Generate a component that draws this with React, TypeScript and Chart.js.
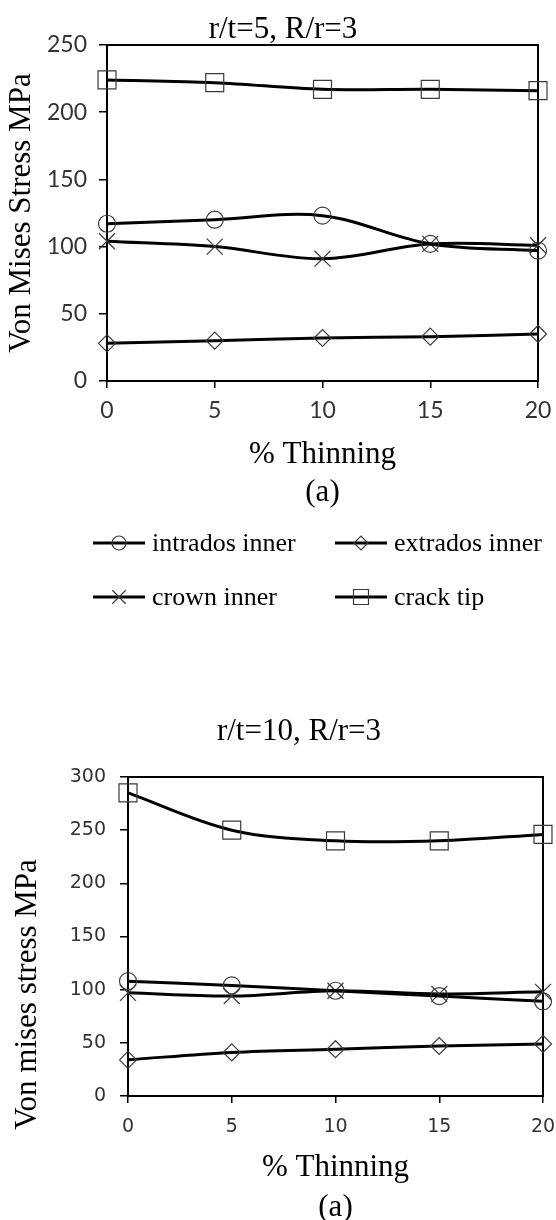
import React, { useEffect, useRef } from 'react';
import { Chart, registerables } from 'chart.js';

Chart.register(...registerables);

// ---------- data ----------
const THINNING = [0, 5, 10, 15, 20];
const SERIES_NAMES = ['intrados inner', 'extrados inner', 'crown inner', 'crack tip'];
const SERIES_MARKERS = ['circle', 'rectRot', 'crossRot', 'rect'];

// chart (top): r/t=5, R/r=3
const TOP_TITLE = 'r/t=5, R/r=3';
const TOP_Y_TITLE = 'Von Mises Stress MPa';
const TOP_INTRADOS = [117, 120, 123, 102, 97];
const TOP_EXTRADOS = [28, 30, 32, 33, 35];
const TOP_CROWN = [104, 100, 91, 102, 101];
const TOP_CRACK = [224, 222, 217, 217, 216];
const TOP_Y_MAX = 250;

// chart (bottom): r/t=10, R/r=3
const BOT_TITLE = 'r/t=10, R/r=3';
const BOT_Y_TITLE = 'Von mises stress MPa';
const BOT_INTRADOS = [108, 104, 99, 94, 89];
const BOT_EXTRADOS = [34, 41, 44, 47, 49];
const BOT_CROWN = [97, 94, 99, 96, 98];
const BOT_CRACK = [285, 250, 240, 240, 246];
const BOT_Y_MAX = 300;

const Y_STEP = 50;
const X_STEP = 5;
const X_TITLE = ['% Thinning', '(a)'];

// ---------- styling ----------
const SERIF = "'Liberation Serif', 'Times New Roman', serif";
const MARKER_RADIUS: Record<string, number> = { circle: 8.5, rectRot: 8.5, crossRot: 11.3, rect: 12.7 };
const LEGEND_RADIUS: Record<string, number> = { circle: 7, rectRot: 7, crossRot: 9.5, rect: 10.6 };
const MARKER_COLOR = '#3a3a3a';

function drawMarker(ctx: CanvasRenderingContext2D, style: string, x: number, y: number, r: number) {
  ctx.beginPath();
  if (style === 'circle') {
    ctx.arc(x, y, r, 0, Math.PI * 2);
  } else if (style === 'rectRot') {
    ctx.moveTo(x - r, y);
    ctx.lineTo(x, y - r);
    ctx.lineTo(x + r, y);
    ctx.lineTo(x, y + r);
    ctx.closePath();
  } else if (style === 'crossRot') {
    const d = r * Math.SQRT1_2;
    ctx.moveTo(x - d, y - d);
    ctx.lineTo(x + d, y + d);
    ctx.moveTo(x - d, y + d);
    ctx.lineTo(x + d, y - d);
  } else {
    const s = r * Math.SQRT1_2;
    ctx.rect(x - s, y - s, 2 * s, 2 * s);
  }
  ctx.stroke();
}

const framePlugin = {
  id: 'plotFrame',
  beforeDatasetsDraw(chart: any) {
    const { ctx, chartArea: a } = chart;
    ctx.save();
    ctx.strokeStyle = '#000';
    ctx.lineWidth = 2;
    ctx.strokeRect(a.left, a.top, a.right - a.left, a.bottom - a.top);
    ctx.restore();
  },
};

const paperTextPlugin = {
  id: 'paperText',
  afterDraw(chart: any, _args: any, o: any) {
    const { ctx, chartArea: a } = chart;
    ctx.save();
    ctx.fillStyle = '#000';
    // chart title
    ctx.font = `${o.titleSize}px ${SERIF}`;
    ctx.textAlign = 'center';
    ctx.textBaseline = 'alphabetic';
    ctx.fillText(o.title, o.titleX, o.titleBaseline);
    // y axis title
    ctx.save();
    ctx.translate(o.yTitleX, (a.top + a.bottom) / 2 + o.yTitleShift);
    ctx.rotate(-Math.PI / 2);
    ctx.font = `${o.yTitleSize}px ${SERIF}`;
    ctx.textAlign = 'center';
    ctx.textBaseline = 'middle';
    ctx.fillText(o.yTitle, 0, 0);
    ctx.restore();
    // legend
    if (o.legend) {
      const L = o.legend;
      chart.data.datasets.forEach((ds: any, i: number) => {
        const x0 = L.cols[i % 2];
        const y = L.rows[Math.floor(i / 2)];
        ctx.strokeStyle = '#000';
        ctx.lineWidth = 3;
        ctx.beginPath();
        ctx.moveTo(x0, y);
        ctx.lineTo(x0 + L.lineLen, y);
        ctx.stroke();
        ctx.strokeStyle = MARKER_COLOR;
        ctx.lineWidth = 1.2;
        drawMarker(ctx, ds.pointStyle, x0 + L.lineLen / 2, y, LEGEND_RADIUS[ds.pointStyle]);
        ctx.fillStyle = '#000';
        ctx.font = `${L.size}px ${SERIF}`;
        ctx.textAlign = 'left';
        ctx.textBaseline = 'middle';
        ctx.fillText(ds.label, x0 + L.lineLen + L.gap, y + L.textShift);
      });
    }
    ctx.restore();
  },
};

function makeDatasets(series: number[][]) {
  return series.map((vals, i) => ({
    label: SERIES_NAMES[i],
    data: THINNING.map((x, j) => ({ x, y: vals[j] })),
    borderColor: '#000',
    borderWidth: 3,
    tension: 0.35,
    fill: false,
    clip: false,
    pointStyle: SERIES_MARKERS[i],
    pointRadius: MARKER_RADIUS[SERIES_MARKERS[i]],
    pointHoverRadius: MARKER_RADIUS[SERIES_MARKERS[i]],
    pointBorderColor: MARKER_COLOR,
    pointBorderWidth: 1.2,
    pointBackgroundColor: 'rgba(0,0,0,0)',
  }));
}

function makeConfig(p: any): any {
  const tickGrid = (len: number) => ({
    display: true,
    drawOnChartArea: false,
    drawTicks: true,
    tickLength: len,
    color: '#000',
    lineWidth: 1.5,
  });
  return {
    type: 'line',
    data: { datasets: makeDatasets(p.series) },
    plugins: [framePlugin, paperTextPlugin],
    options: {
      animation: false,
      responsive: true,
      maintainAspectRatio: false,
      events: [],
      layout: { padding: p.padding },
      plugins: {
        legend: { display: false },
        title: { display: false },
        tooltip: { enabled: false },
        paperText: p.text,
      },
      scales: {
        x: {
          type: 'linear',
          min: 0,
          max: THINNING[THINNING.length - 1],
          ticks: {
            stepSize: X_STEP,
            color: '#333',
            font: p.tickFont,
            padding: p.xTickPad,
            maxRotation: 0,
            autoSkip: false,
          },
          grid: tickGrid(7),
          border: { display: false },
          title: {
            display: true,
            text: X_TITLE,
            color: '#000',
            font: { family: SERIF, size: 31, lineHeight: p.xTitleLH / 31 },
            padding: 0,
          },
          afterFit: (s: any) => { s.height = p.xHeight; },
        },
        y: {
          min: 0,
          max: p.yMax,
          ticks: {
            stepSize: Y_STEP,
            color: '#333',
            font: p.tickFont,
            padding: p.yTickPad,
          },
          grid: tickGrid(8),
          border: { display: false },
          afterFit: (s: any) => { s.width = p.yWidth; },
        },
      },
    },
  };
}

function ChartPanel({ params, style }: { params: any; style: React.CSSProperties }) {
  const ref = useRef<HTMLCanvasElement>(null);
  useEffect(() => {
    const chart = new Chart(ref.current as HTMLCanvasElement, makeConfig(params));
    return () => chart.destroy();
  }, []);
  return (
    <div style={style}>
      <canvas ref={ref} />
    </div>
  );
}

const topParams = {
  series: [TOP_INTRADOS, TOP_EXTRADOS, TOP_CROWN, TOP_CRACK],
  yMax: TOP_Y_MAX,
  padding: { top: 45, left: 0, right: 42, bottom: 113 },
  yWidth: 107,
  xHeight: 131,
  xTickPad: 9,
  yTickPad: 12,
  xTitleLH: 38,
  tickFont: { family: "Lato, 'Open Sans', sans-serif", size: 23 },
  text: {
    title: TOP_TITLE,
    titleSize: 31,
    titleX: 283,
    titleBaseline: 38,
    yTitle: TOP_Y_TITLE,
    yTitleSize: 31,
    yTitleX: 22,
    yTitleShift: 0,
    legend: { cols: [93, 335], rows: [543, 597], lineLen: 52, gap: 7, size: 26, textShift: 1 },
  },
};

const botParams = {
  series: [BOT_INTRADOS, BOT_EXTRADOS, BOT_CROWN, BOT_CRACK],
  yMax: BOT_Y_MAX,
  padding: { top: 137, left: 0, right: 37, bottom: 12 },
  yWidth: 128,
  xHeight: 132,
  xTickPad: 13,
  yTickPad: 14,
  xTitleLH: 40,
  tickFont: { family: "'DejaVu Sans', Verdana, sans-serif", size: 19 },
  text: {
    title: BOT_TITLE,
    titleSize: 31,
    titleX: 299,
    titleBaseline: 100,
    yTitle: BOT_Y_TITLE,
    yTitleSize: 31,
    yTitleX: 28,
    yTitleShift: 58,
    legend: null,
  },
};

export default function App() {
  return (
    <div
      style={{
        position: 'absolute',
        left: 0,
        top: 0,
        width: 556,
        height: 1220,
        overflow: 'hidden',
        background: '#fff',
      }}
    >
      <ChartPanel params={topParams} style={{ position: 'absolute', left: 0, top: 0, width: 580, height: 625 }} />
      <ChartPanel params={botParams} style={{ position: 'absolute', left: 0, top: 640, width: 580, height: 600 }} />
    </div>
  );
}
